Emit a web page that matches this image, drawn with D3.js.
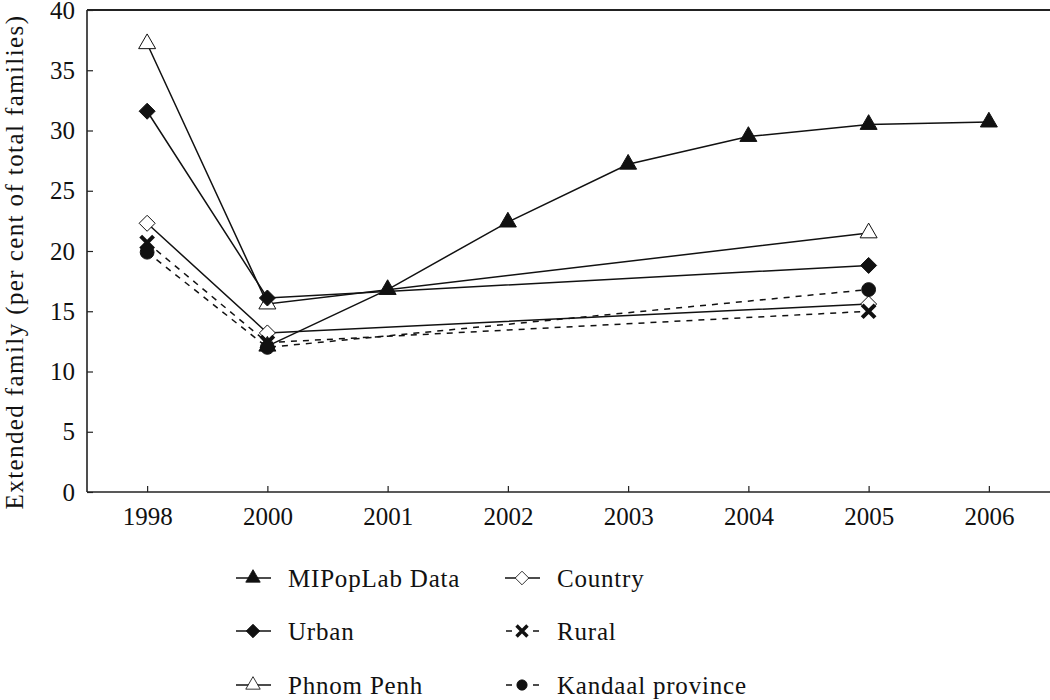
<!DOCTYPE html>
<html><head><meta charset="utf-8">
<script src="https://cdn.jsdelivr.net/npm/d3@7"></script>
<style>body{margin:0;background:#fff;} svg{display:block;}</style>
</head><body>
<svg id="chart" width="1050" height="700"></svg>
<script>
const years = ["1998","2000","2001","2002","2003","2004","2005","2006"];
const yTicks = [0,5,10,15,20,25,30,35,40];
const mipoplab = [null,12.1,16.8,22.4,27.2,29.5,30.5,30.7];
const urban    = [31.6,16.1,null,null,null,null,18.8,null];
const phnomPenh= [37.2,15.6,null,null,null,null,21.5,null];
const country  = [22.3,13.2,null,null,null,null,15.6,null];
const rural    = [20.7,12.4,null,null,null,null,15.0,null];
const kandaal  = [19.9,12.0,null,null,null,null,16.8,null];
const seriesNames = ["MIPopLab Data","Urban","Phnom Penh","Country","Rural","Kandaal province"];

const series = [
  {name:seriesNames[2], values:phnomPenh, marker:"triangle", fill:"#fff", dash:null},
  {name:seriesNames[3], values:country, marker:"diamond", fill:"#fff", dash:null},
  {name:seriesNames[4], values:rural, marker:"cross", fill:"#111", dash:"6,6"},
  {name:seriesNames[5], values:kandaal, marker:"circle", fill:"#111", dash:"6,6"},
  {name:seriesNames[1], values:urban, marker:"diamond", fill:"#111", dash:null},
  {name:seriesNames[0], values:mipoplab, marker:"triangle", fill:"#111", dash:null}
];

const svg = d3.select("#chart");
const font = "'Liberation Serif', 'DejaVu Serif', serif";
const L=87, R=1050, T=10, B=492;
const x = d3.scalePoint().domain(years).range([L, R-1]).padding(0.5);
const y = d3.scaleLinear().domain([0,40]).range([B,T]);

const xAxis = svg.append("g").attr("transform",`translate(0,${B})`)
  .call(d3.axisBottom(x).tickSize(-6).tickSizeOuter(0).tickPadding(15));
const yAxis = svg.append("g").attr("transform",`translate(${L},0)`)
  .call(d3.axisLeft(y).tickValues(yTicks).tickSize(-6).tickSizeOuter(0).tickPadding(12));
[xAxis,yAxis].forEach(a=>{
  a.select(".domain").remove();
  a.selectAll("line").attr("stroke","#222").attr("stroke-width",1.2);
  a.selectAll("text").attr("font-family",font).attr("font-size",25).attr("fill","#111");
});
xAxis.selectAll("text").attr("dy","0.71em");
svg.append("line").attr("x1",L).attr("x2",R).attr("y1",B).attr("y2",B).attr("stroke","#222").attr("stroke-width",1.6);
svg.append("line").attr("x1",L).attr("x2",L).attr("y1",T).attr("y2",B).attr("stroke","#222").attr("stroke-width",1.6);
svg.append("line").attr("x1",L).attr("x2",R).attr("y1",T).attr("y2",T).attr("stroke","#222").attr("stroke-width",2);

svg.append("text").attr("transform",`translate(23,262) rotate(-90)`)
  .attr("text-anchor","middle").attr("font-family",font).attr("font-size",25)
  .attr("letter-spacing","1.4px").attr("fill","#111")
  .text("Extended family (per cent of total families)");

function markerPath(type){
  switch(type){
    case "triangle": return d3.symbol(d3.symbolTriangle, 125)();
    case "diamond": return "M0,-8L8,0L0,8L-8,0Z";
    case "circle": return d3.symbol(d3.symbolCircle, 150)();
    case "cross": return d3.symbol(d3.symbolX, 110)();
  }
}

const line = d3.line().defined(d=>d.v!=null).x(d=>x(d.k)).y(d=>y(d.v));
series.forEach(s=>{
  const pts = years.map((k,i)=>({k, v:s.values[i]})).filter(d=>d.v!=null);
  svg.append("path").datum(pts).attr("d",line).attr("fill","none")
    .attr("stroke","#111").attr("stroke-width",1.5).attr("stroke-dasharray",s.dash);
});
series.forEach(s=>{
  const pts = years.map((k,i)=>({k, v:s.values[i]})).filter(d=>d.v!=null);
  svg.append("g").selectAll("path").data(pts).join("path")
    .attr("transform",d=>`translate(${x(d.k)},${y(d.v)})`)
    .attr("d",markerPath(s.marker))
    .attr("fill", s.marker==="cross" ? "none" : s.fill)
    .attr("stroke","#111")
    .attr("stroke-width", s.marker==="cross" ? 4 : 1);
});

const legendItems = [
  {s:series[5], col:0,row:0},{s:series[4], col:0,row:1},{s:series[0], col:0,row:2},
  {s:series[1], col:1,row:0},{s:series[2], col:1,row:1},{s:series[3], col:1,row:2}
];
const colX = [236, 505], rowY = [578, 631, 685];
legendItems.forEach(it=>{
  const g = svg.append("g").attr("transform",`translate(${colX[it.col]},${rowY[it.row]})`);
  if(it.s.dash){
    g.append("line").attr("x1",1).attr("x2",7).attr("stroke","#111").attr("stroke-width",1.5);
    g.append("line").attr("x1",28).attr("x2",34).attr("stroke","#111").attr("stroke-width",1.5);
  } else {
    g.append("line").attr("x1",0).attr("x2",35).attr("stroke","#111").attr("stroke-width",1.5);
  }
  const sc = it.s.marker==="circle"? 0.75 : 0.85;
  g.append("path").attr("transform",`translate(17,0) scale(${sc})`).attr("d",markerPath(it.s.marker))
    .attr("fill", it.s.marker==="cross" ? "none" : it.s.fill).attr("stroke","#111")
    .attr("stroke-width", it.s.marker==="cross"?4:1);
  g.append("text").attr("x",52).attr("y",0).attr("dy","0.35em").attr("font-family",font)
    .attr("font-size",25).attr("letter-spacing","0.8px").attr("fill","#111").text(it.s.name);
});
</script>
</body></html>
